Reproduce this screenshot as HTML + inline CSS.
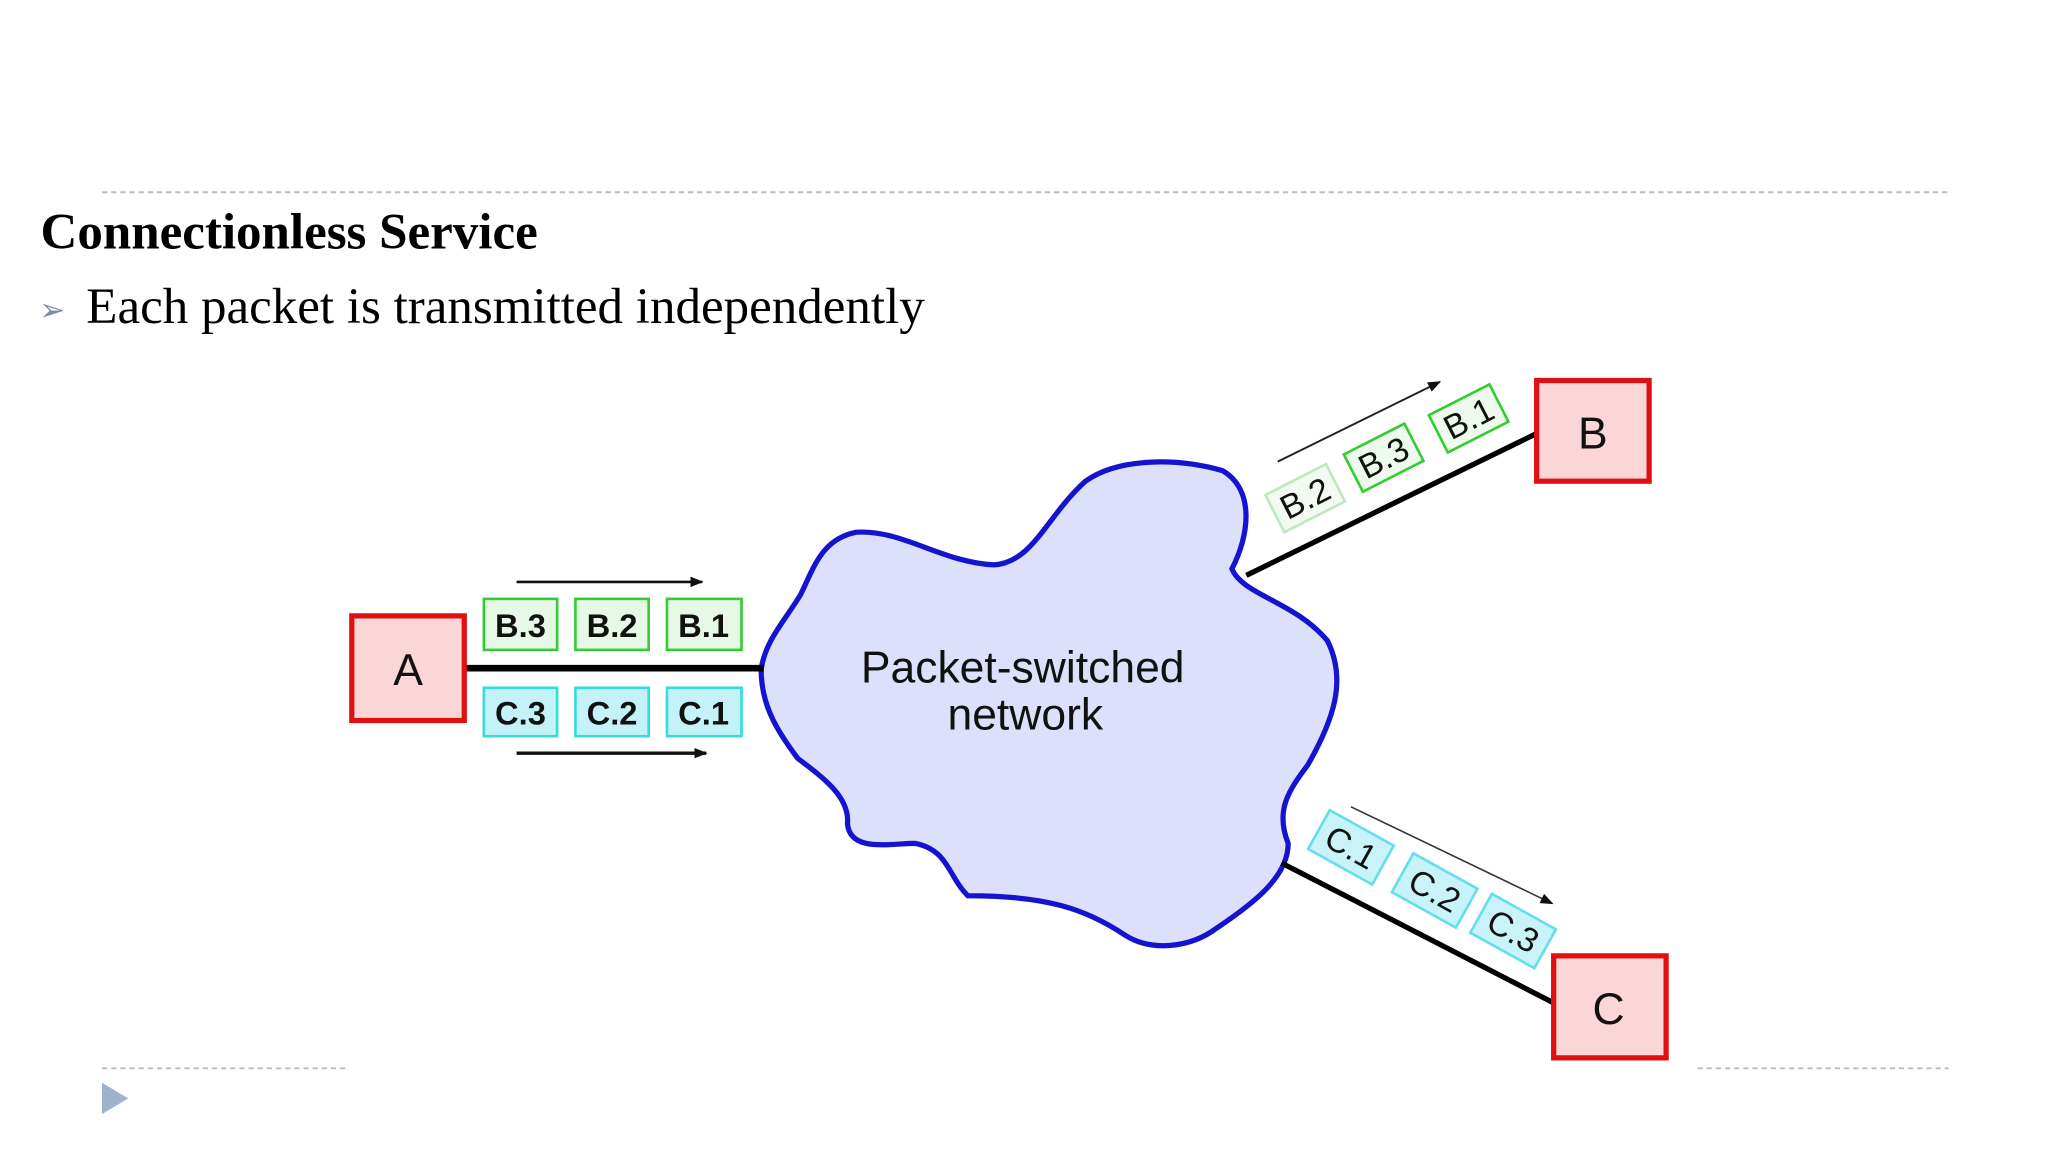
<!DOCTYPE html>
<html><head><meta charset="utf-8"><style>
html,body{margin:0;padding:0;background:#fff;width:2048px;height:1152px;overflow:hidden}
svg{display:block}
.pk{font-family:"Liberation Sans",Arial,sans-serif;font-weight:bold;font-size:25px;fill:#111}
.pl{font-family:"Liberation Sans",Arial,sans-serif;font-size:26px;fill:#111}
</style></head><body>
<svg width="2048" height="1152" viewBox="0 0 1566 881" preserveAspectRatio="none" xmlns="http://www.w3.org/2000/svg">
<defs><marker id="ah" markerWidth="10" markerHeight="8" refX="9" refY="4" orient="auto" markerUnits="userSpaceOnUse"><path d="M0,0 L10,4 L0,8 Z" fill="#111"/></marker></defs>
<line x1="78" y1="147" x2="1490" y2="147" stroke="#bbb" stroke-width="1.5" stroke-dasharray="4,3"/>
<line x1="78" y1="817" x2="265" y2="817" stroke="#bbb" stroke-width="1.5" stroke-dasharray="4,3"/>
<line x1="1298" y1="817" x2="1490" y2="817" stroke="#bbb" stroke-width="1.5" stroke-dasharray="4,3"/>
<path d="M78,828 L98,840 L78,852 Z" fill="#9fb3cc"/>
<text x="31" y="190" font-family="'Liberation Serif',serif" font-weight="bold" font-size="39" fill="#000">Connectionless Service</text>
<text x="30" y="245" font-family="'DejaVu Sans',sans-serif" font-size="24" fill="#7a8aa8">➢</text>
<text x="66" y="247" font-family="'Liberation Serif',serif" font-size="39" fill="#000">Each packet is transmitted independently</text>

<path d="M582,512 C585,490 600,475 612,455 C622,435 628,412 655,407 C690,405 720,430 760,432 C790,430 800,395 830,368 C855,350 900,350 935,360 C960,375 955,410 942,435 C950,455 990,460 1015,490 C1030,520 1020,550 1000,585 C985,605 975,620 985,645 C985,670 960,690 930,710 C910,725 880,728 860,715 C830,695 800,685 740,685 C725,670 725,650 700,645 C680,645 650,652 648,630 C650,610 630,595 610,580 C595,560 582,540 582,512 Z" fill="#dde0fa" stroke="#1414d0" stroke-width="4"/>
<text x="782" y="522" text-anchor="middle" font-family="'Liberation Sans',Arial,sans-serif" font-size="34" fill="#111">Packet-switched</text>
<text x="784" y="558" text-anchor="middle" font-family="'Liberation Sans',Arial,sans-serif" font-size="34" fill="#111">network</text>

<line x1="356" y1="511" x2="584" y2="511" stroke="#000" stroke-width="5"/>
<line x1="953" y1="440" x2="1176" y2="331" stroke="#000" stroke-width="4"/>
<line x1="980" y1="660" x2="1190" y2="768" stroke="#000" stroke-width="4"/>

<rect x="269" y="471" width="86" height="80" fill="#fbd6d6" stroke="#e01010" stroke-width="4"/>
<text x="312" y="524" text-anchor="middle" font-family="'Liberation Sans',Arial,sans-serif" font-size="34" fill="#111">A</text>
<rect x="1175" y="291" width="86" height="77" fill="#fbd6d6" stroke="#e01010" stroke-width="4"/>
<text x="1218" y="343" text-anchor="middle" font-family="'Liberation Sans',Arial,sans-serif" font-size="34" fill="#111">B</text>
<rect x="1188" y="731" width="86" height="78" fill="#fbd6d6" stroke="#e01010" stroke-width="4"/>
<text x="1230" y="783" text-anchor="middle" font-family="'Liberation Sans',Arial,sans-serif" font-size="34" fill="#111">C</text>

<g stroke="#3c3" stroke-width="2" fill="#e6f8e6">
<rect x="370" y="458" width="56" height="39"/><rect x="440" y="458" width="56" height="39"/><rect x="510" y="458" width="57" height="39"/>
</g>
<text class="pk" x="398" y="487" text-anchor="middle">B.3</text>
<text class="pk" x="468" y="487" text-anchor="middle">B.2</text>
<text class="pk" x="538" y="487" text-anchor="middle">B.1</text>
<g stroke="#3dd" stroke-width="2" fill="#c4f2f8">
<rect x="370" y="526" width="56" height="37"/><rect x="440" y="526" width="56" height="37"/><rect x="510" y="526" width="57" height="37"/>
</g>
<text class="pk" x="398" y="554" text-anchor="middle">C.3</text>
<text class="pk" x="468" y="554" text-anchor="middle">C.2</text>
<text class="pk" x="538" y="554" text-anchor="middle">C.1</text>
<line x1="395" y1="445" x2="537" y2="445" stroke="#111" stroke-width="2" marker-end="url(#ah)"/>
<line x1="395" y1="576" x2="540" y2="576" stroke="#111" stroke-width="2.5" marker-end="url(#ah)"/>

<line x1="977" y1="353" x2="1101" y2="292" stroke="#222" stroke-width="1.5" marker-end="url(#ah)"/>
<g transform="translate(998,381) rotate(-27)"><rect x="-26" y="-16" width="52" height="32" fill="#f2fbf2" stroke="#bfe8bf" stroke-width="2"/><text class="pl" x="0" y="9" text-anchor="middle">B.2</text></g>
<g transform="translate(1058,350) rotate(-27)"><rect x="-26" y="-16" width="52" height="32" fill="#eefaee" stroke="#3c3" stroke-width="2"/><text class="pl" x="0" y="9" text-anchor="middle">B.3</text></g>
<g transform="translate(1123,320) rotate(-27)"><rect x="-26" y="-16" width="52" height="32" fill="#eefaee" stroke="#3c3" stroke-width="2"/><text class="pl" x="0" y="9" text-anchor="middle">B.1</text></g>

<line x1="1033" y1="617" x2="1187" y2="691" stroke="#333" stroke-width="1.2" marker-end="url(#ah)"/>
<g transform="translate(1033,648) rotate(29)"><rect x="-28" y="-17" width="56" height="34" fill="#c8f3f8" stroke="#6de" stroke-width="2"/><text class="pl" x="0" y="9" text-anchor="middle">C.1</text></g>
<g transform="translate(1097,681) rotate(29)"><rect x="-28" y="-17" width="56" height="34" fill="#c8f3f8" stroke="#6de" stroke-width="2"/><text class="pl" x="0" y="9" text-anchor="middle">C.2</text></g>
<g transform="translate(1157,712) rotate(29)"><rect x="-28" y="-17" width="56" height="34" fill="#c8f3f8" stroke="#6de" stroke-width="2"/><text class="pl" x="0" y="9" text-anchor="middle">C.3</text></g>
</svg>
</body></html>
